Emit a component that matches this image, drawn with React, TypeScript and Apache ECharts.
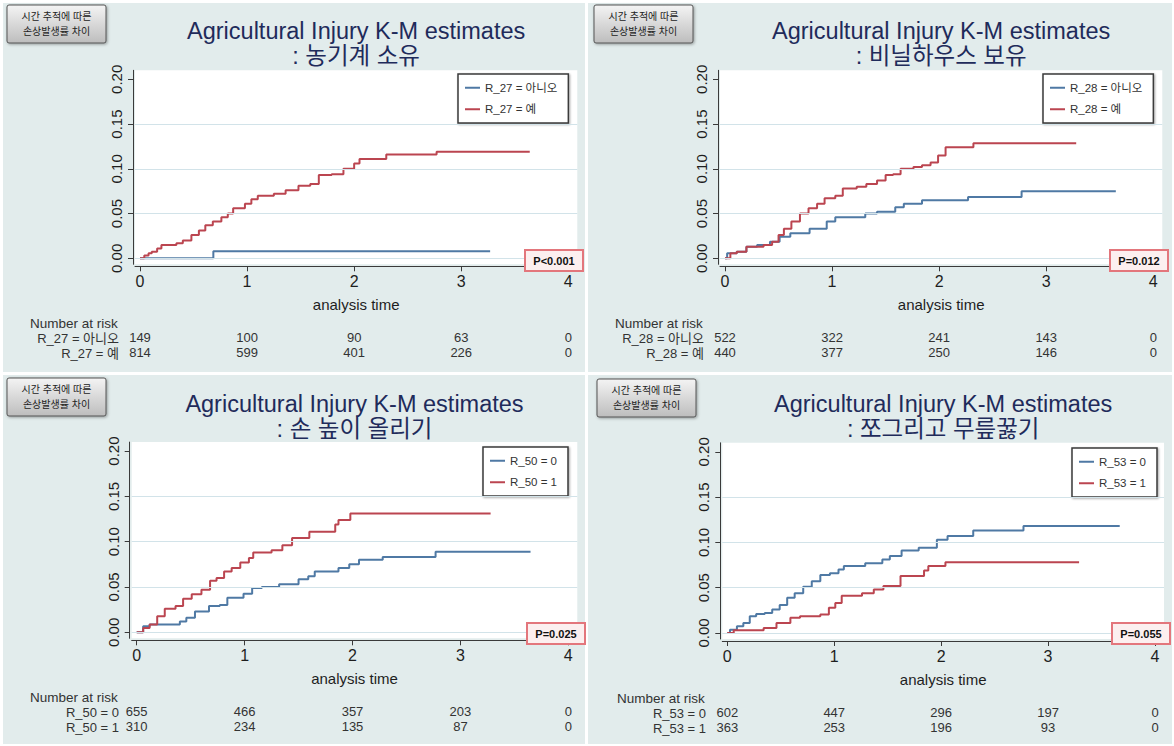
import React, { useEffect, useRef } from "react";
import * as echarts from "echarts";

// ---------- text ----------
const mainTitle = "Agricultural Injury K-M estimates";
const subTitles = [": 농기계 소유", ": 비닐하우스 보유", ": 손 높이 올리기", ": 쪼그리고 무릎꿇기"];
const buttonText = "시간 추적에 따른\n손상발생률 차이";
const group0Names = ["R_27 = 아니오", "R_28 = 아니오", "R_50 = 0", "R_53 = 0"];
const group1Names = ["R_27 = 예", "R_28 = 예", "R_50 = 1", "R_53 = 1"];
const pValueLabels = ["P<0.001", "P=0.012", "P=0.025", "P=0.055"];
const xAxisName = "analysis time";
const riskHeader = "Number at risk";

// ---------- ticks ----------
const xTickValues = [0, 1, 2, 3, 4];
const yTickValues = [0, 0.05, 0.1, 0.15, 0.2];
const gridLineValues = [0, 0.05, 0.1, 0.15];
const riskTimes = [0, 1, 2, 3, 4];

// ---------- number at risk ----------
const riskR27No = [149, 100, 90, 63, 0];
const riskR27Yes = [814, 599, 401, 226, 0];
const riskR28No = [522, 322, 241, 143, 0];
const riskR28Yes = [440, 377, 250, 146, 0];
const riskR50Zero = [655, 466, 357, 203, 0];
const riskR50One = [310, 234, 135, 87, 0];
const riskR53Zero = [602, 447, 296, 197, 0];
const riskR53One = [363, 253, 196, 93, 0];

// ---------- K-M failure curves [time, cumulative failure] ----------
const curveR27No = [[0, 0], [0.685, 0.008], [3.27, 0.008]];
const curveR27Yes = [
  [0, 0], [0.04, 0.003], [0.08, 0.0056], [0.11, 0.0074], [0.16, 0.011], [0.2, 0.015], [0.34, 0.0167],
  [0.4, 0.02], [0.48, 0.026], [0.55, 0.031], [0.61, 0.037], [0.68, 0.041], [0.76, 0.046], [0.82, 0.05],
  [0.87, 0.056], [0.98, 0.061], [1.04, 0.066], [1.1, 0.07], [1.25, 0.072], [1.36, 0.076], [1.48, 0.081],
  [1.59, 0.083], [1.67, 0.093], [1.79, 0.094], [1.9, 0.1], [2.0, 0.106], [2.05, 0.111], [2.3, 0.116],
  [2.77, 0.119], [3.64, 0.119],
];
const curveR28No = [
  [0, 0], [0.02, 0.0056], [0.11, 0.0074], [0.2, 0.013], [0.3, 0.015], [0.42, 0.0185], [0.51, 0.024],
  [0.61, 0.028], [0.79, 0.033], [0.95, 0.041], [1.03, 0.046], [1.31, 0.05], [1.42, 0.052], [1.59, 0.057],
  [1.67, 0.061], [1.84, 0.065], [2.27, 0.0685], [2.77, 0.075], [3.65, 0.075],
];
const curveR28Yes = [
  [0, 0], [0.05, 0.0056], [0.11, 0.0074], [0.2, 0.013], [0.36, 0.015], [0.44, 0.0185], [0.5, 0.026],
  [0.55, 0.033], [0.62, 0.041], [0.7, 0.05], [0.78, 0.056], [0.86, 0.061], [0.93, 0.067], [1.03, 0.07],
  [1.1, 0.078], [1.23, 0.08], [1.32, 0.083], [1.42, 0.087], [1.5, 0.093], [1.57, 0.094], [1.64, 0.1],
  [1.76, 0.102], [1.84, 0.104], [1.92, 0.107], [1.99, 0.115], [2.06, 0.124], [2.32, 0.1285], [3.28, 0.1285],
];
const curveR50Zero = [
  [0, 0], [0.06, 0.0067], [0.12, 0.0085], [0.4, 0.012], [0.46, 0.016], [0.54, 0.023], [0.67, 0.029],
  [0.77, 0.03], [0.84, 0.038], [0.99, 0.0426], [1.07, 0.049], [1.16, 0.05], [1.32, 0.053], [1.5, 0.0585],
  [1.59, 0.062], [1.65, 0.067], [1.87, 0.071], [1.97, 0.075], [2.06, 0.08], [2.28, 0.083], [2.77, 0.089],
  [3.65, 0.089],
];
const curveR50One = [
  [0, 0], [0.06, 0.0048], [0.12, 0.0085], [0.19, 0.0178], [0.26, 0.026], [0.36, 0.029], [0.43, 0.037],
  [0.51, 0.042], [0.6, 0.047], [0.68, 0.057], [0.74, 0.06], [0.81, 0.067], [0.88, 0.071], [0.96, 0.077],
  [1.04, 0.082], [1.08, 0.088], [1.25, 0.0907], [1.35, 0.096], [1.44, 0.104], [1.6, 0.111], [1.84, 0.119],
  [1.87, 0.124], [1.98, 0.131], [3.28, 0.131],
];
const curveR53Zero = [
  [0, 0], [0.025, 0.0037], [0.09, 0.0074], [0.15, 0.011], [0.21, 0.0185], [0.27, 0.021], [0.35, 0.022],
  [0.42, 0.026], [0.49, 0.031], [0.56, 0.039], [0.63, 0.044], [0.71, 0.051], [0.79, 0.057], [0.87, 0.064],
  [0.96, 0.066], [1.04, 0.07], [1.09, 0.074], [1.29, 0.077], [1.45, 0.081], [1.52, 0.085], [1.63, 0.091],
  [1.79, 0.094], [1.96, 0.103], [2.06, 0.107], [2.3, 0.113], [2.77, 0.118], [3.67, 0.118],
];
const curveR53One = [
  [0, 0], [0.06, 0.003], [0.34, 0.0056], [0.46, 0.011], [0.59, 0.0167], [0.68, 0.0185], [0.87, 0.0204],
  [0.95, 0.028], [1.01, 0.033], [1.07, 0.041], [1.26, 0.044], [1.37, 0.048], [1.46, 0.052], [1.62, 0.063],
  [1.84, 0.069], [1.88, 0.074], [2.04, 0.078], [3.29, 0.078],
];

const curves0 = [curveR27No, curveR28No, curveR50Zero, curveR53Zero];
const curves1 = [curveR27Yes, curveR28Yes, curveR50One, curveR53One];
const risk0 = [riskR27No, riskR28No, riskR50Zero, riskR53Zero];
const risk1 = [riskR27Yes, riskR28Yes, riskR50One, riskR53One];

// ---------- layout (pixels) ----------
const layout = [
  { ox: 0, oy: 0, bgX: 3, bgY: 3, bgW: 582, bgH: 369, x0: 140, x4: 568.3, y0: 258.3, y20: 79.3, legL: 458, legT: 74, pX: 525, pY: 250, btnX: 7, btnY: 5 },
  { ox: 585, oy: 0, bgX: 588, bgY: 3, bgW: 584, bgH: 369, x0: 725, x4: 1153.3, y0: 258.3, y20: 79.3, legL: 1043, legT: 74, pX: 1110, pY: 250, btnX: 594, btnY: 5 },
  { ox: 0, oy: 373, bgX: 3, bgY: 375, bgW: 582, bgH: 369, x0: 136.7, x4: 568.3, y0: 632.3, y20: 451.1, legL: 483, legT: 447, pX: 527, pY: 623, btnX: 7, btnY: 378 },
  { ox: 587, oy: 373, bgX: 588, bgY: 375, bgW: 584, bgH: 369, x0: 727.3, x4: 1155, y0: 633, y20: 451.8, legL: 1072, legT: 448, pX: 1112, pY: 623, btnX: 597, btnY: 379 },
];

const FONT = "'Liberation Sans', Arial, 'Noto Sans CJK KR', sans-serif";
const BLUE = "#4f79a4";
const RED = "#bb4550";
const PANEL_BG = "#e2ecec";
const AXIS_COLOR = "#3a3a3a";
const LABEL_COLOR = "#1e1e1e";

function buildOption() {
  const grids: any[] = [];
  const xAxes: any[] = [];
  const yAxes: any[] = [];
  const series: any[] = [];
  const legends: any[] = [];
  const graphics: any[] = [];

  layout.forEach((L, p) => {
    const ppx = (L.x4 - L.x0) / 4;
    const ppy = (L.y0 - L.y20) / 0.2;
    const left = L.x0 - 5;
    const right = L.x4 + 9;
    const top = L.y20 - 9;
    const bottom = L.y0 + 6;
    const xmin = -5 / ppx;
    const xmax = 4 + 9 / ppx;
    const ymin = -6 / ppy;
    const ymax = 0.2 + 9 / ppy;

    grids.push({
      left, top, width: right - left, height: bottom - top,
      show: true, backgroundColor: "#ffffff", borderWidth: 0,
    });

    // main x axis
    xAxes.push({
      type: "value", gridIndex: p, position: "bottom", min: xmin, max: xmax, offset: 2,
      axisLine: { show: true, onZero: false, lineStyle: { color: AXIS_COLOR, width: 1 } },
      axisTick: { show: true, customValues: xTickValues, length: 5, lineStyle: { color: AXIS_COLOR } },
      axisLabel: { customValues: xTickValues, fontSize: 16, color: LABEL_COLOR, margin: 7, fontFamily: FONT, formatter: (v: number) => String(Math.round(v)) },
      splitLine: { show: false },
      name: xAxisName, nameLocation: "middle", nameGap: 31,
      nameTextStyle: { fontSize: 15, color: LABEL_COLOR, fontFamily: FONT },
    });
    // number-at-risk rows as extra x axes
    [risk0[p], risk1[p]].forEach((row, r) => {
      xAxes.push({
        type: "value", gridIndex: p, position: "bottom", min: xmin, max: xmax, offset: 67 + r * 15,
        axisLine: { show: false, onZero: false },
        axisTick: { show: false },
        axisLabel: {
          customValues: riskTimes, fontSize: 13, color: "#333", margin: 0, fontFamily: FONT,
          formatter: (v: number) => String(row[riskTimes.indexOf(Math.round(v))]),
        },
        splitLine: { show: false },
      });
    });

    yAxes.push({
      type: "value", gridIndex: p, position: "left", min: ymin, max: ymax, offset: 2,
      axisLine: { show: true, onZero: false, lineStyle: { color: AXIS_COLOR, width: 1 } },
      axisTick: { show: true, customValues: yTickValues, length: 5, lineStyle: { color: AXIS_COLOR } },
      axisLabel: {
        customValues: yTickValues, rotate: 90, fontSize: 15, color: LABEL_COLOR, margin: 9, fontFamily: FONT,
        formatter: (v: number) => v.toFixed(2),
      },
      splitLine: { show: false },
    });

    // grid lines
    series.push({
      type: "line", name: "grid" + p, xAxisIndex: 3 * p, yAxisIndex: p, data: [[0, 0]],
      showSymbol: false, lineStyle: { opacity: 0 }, z: 1, silent: true,
      markLine: {
        silent: true, symbol: "none", label: { show: false },
        lineStyle: { color: "#d2e3e9", width: 1, type: "solid" },
        data: gridLineValues.map((v) => ({ yAxis: v })),
      },
    });
    series.push({
      type: "line", name: group0Names[p], step: "end", data: curves0[p], xAxisIndex: 3 * p, yAxisIndex: p,
      showSymbol: false, color: BLUE, lineStyle: { width: 2, color: BLUE }, z: 3, silent: true,
    });
    series.push({
      type: "line", name: group1Names[p], step: "end", data: curves1[p], xAxisIndex: 3 * p, yAxisIndex: p,
      showSymbol: false, color: RED, lineStyle: { width: 2, color: RED }, z: 3, silent: true,
    });

    legends.push({
      data: [group0Names[p], group1Names[p]], orient: "vertical", left: L.legL, top: L.legT,
      padding: [8, 11, 8, 7], itemGap: 10, itemWidth: 15, itemHeight: 2, icon: "rect",
      backgroundColor: "#ffffff", borderColor: "#3a3a3a", borderWidth: 1.5, borderRadius: 0,
      shadowColor: "rgba(0,0,0,0.35)", shadowBlur: 2, shadowOffsetX: 1, shadowOffsetY: 1,
      textStyle: { fontSize: 11.5, color: "#333", fontFamily: FONT }, selectedMode: false,
    });

    // panel background
    graphics.push({
      type: "rect", z: -10, silent: true,
      shape: { x: L.bgX, y: L.bgY, width: L.bgW, height: L.bgH },
      style: { fill: PANEL_BG },
    });
    // button
    graphics.push({
      type: "rect", z: 50, silent: true,
      shape: { x: L.btnX, y: L.btnY, width: 99, height: 38, r: 2 },
      style: {
        fill: { type: "linear", x: 0, y: 0, x2: 0, y2: 1, colorStops: [{ offset: 0, color: "#f4f4f4" }, { offset: 1, color: "#bdbdbd" }] },
        stroke: "#555", lineWidth: 1, shadowBlur: 3, shadowColor: "rgba(0,0,0,0.35)", shadowOffsetX: 1, shadowOffsetY: 1,
      },
    });
    graphics.push({
      type: "text", z: 51, silent: true, x: L.btnX + 49.5, y: L.btnY + 19,
      style: { text: buttonText, fill: "#222", font: "10px " + FONT, align: "center", verticalAlign: "middle", lineHeight: 15 },
    });
    // title
    graphics.push({
      type: "text", z: 50, silent: true, x: (left + right) / 2, y: L.oy + 18.5,
      style: { text: mainTitle + "\n" + subTitles[p], fill: "#1f2b5b", font: "23.5px " + FONT, align: "center", verticalAlign: "top", lineHeight: 25 },
    });
    // p value box
    graphics.push({
      type: "rect", z: 50, silent: true,
      shape: { x: L.pX, y: L.pY, width: 58, height: 21 },
      style: { fill: "#fcefef", stroke: "#e3767c", lineWidth: 2 },
    });
    graphics.push({
      type: "text", z: 51, silent: true, x: L.pX + 29, y: L.pY + 10.5,
      style: { text: pValueLabels[p], fill: "#111", font: "bold 11px " + FONT, align: "center", verticalAlign: "middle" },
    });
    // number at risk header + row labels
    graphics.push({
      type: "text", z: 50, silent: true, x: L.ox + 30, y: bottom + 59,
      style: { text: riskHeader, fill: "#333", font: "13.5px " + FONT, align: "left", verticalAlign: "middle" },
    });
    [group0Names[p], group1Names[p]].forEach((nm, r) => {
      graphics.push({
        type: "text", z: 50, silent: true, x: L.ox + 119, y: bottom + 74 + r * 15,
        style: { text: nm, fill: "#333", font: "13px " + FONT, align: "right", verticalAlign: "middle" },
      });
    });
  });

  return {
    animation: false,
    backgroundColor: "#ffffff",
    textStyle: { fontFamily: FONT },
    grid: grids,
    xAxis: xAxes,
    yAxis: yAxes,
    legend: legends,
    series,
    graphic: { elements: graphics },
  };
}

export default function App() {
  const ref = useRef<HTMLDivElement>(null);
  useEffect(() => {
    if (!ref.current) return;
    const chart = echarts.init(ref.current, undefined, { renderer: "svg" });
    chart.setOption(buildOption() as any);
    return () => chart.dispose();
  }, []);
  return (
    <div
      ref={ref}
      style={{ position: "fixed", left: 0, top: 0, width: 1174, height: 746, background: "#fff" }}
    />
  );
}
